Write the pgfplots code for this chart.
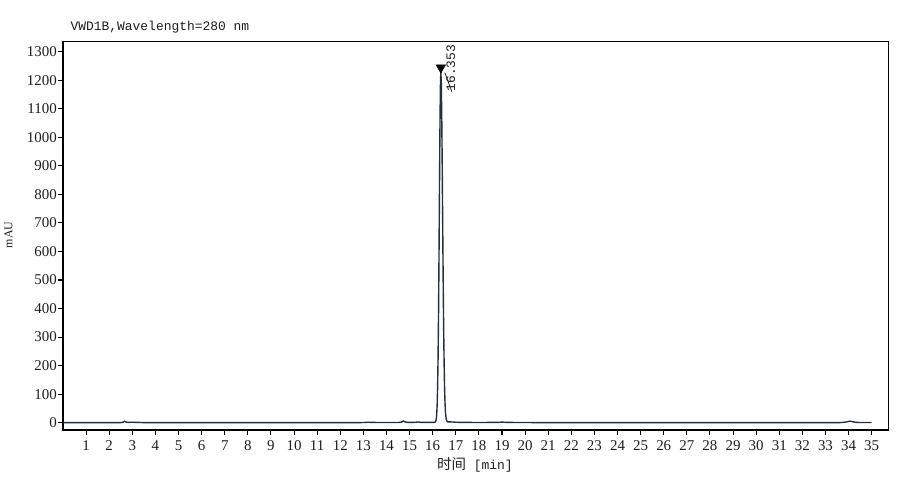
\documentclass[border=0pt]{standalone}
\usepackage{fontspec}
\setmainfont{Liberation Serif}
\newfontfamily\mono{Liberation Mono}
\newfontfamily\cjk{Noto Sans CJK SC}
\usepackage{pgfplots}
\pgfplotsset{compat=1.18}
\definecolor{trace}{RGB}{35,48,64}
\definecolor{txt}{RGB}{30,30,30}
\newcommand{\tlfont}{\fontsize{15}{16}\selectfont}
\begin{document}
\begin{tikzpicture}[x=1bp,y=1bp]
\path[use as bounding box] (0,0) rectangle (907,478);
\begin{axis}[
  at={(63bp,48bp)}, anchor=south west, scale only axis,
  width=825.3bp, height=388.3bp,
  xmin=0, xmax=35.72, ymin=-25.6, ymax=1335,
  xtick={1,...,35}, ytick={0,100,...,1300},
  tick pos=left, tick align=outside,
  major tick length=5bp,
  axis line style={line width=1.3bp, black},
  every tick/.style={black, line width=1.1bp},
  /pgf/number format/assume math mode=true,
  /pgf/number format/1000 sep={},
  xticklabel={\tlfont\pgfmathprintnumber[assume math mode=true,1000 sep={}]{\tick}},
  yticklabel={\tlfont\pgfmathprintnumber[assume math mode=true,1000 sep={}]{\tick}},
  tick label style={text=txt},
  yticklabel style={inner sep=1pt},
  xticklabel style={inner sep=1pt, yshift=-4.5bp},
]
\addplot[trace, line width=1.4bp] coordinates {
(0,0.3) (1,0.2) (2,0.2) (2.5,0.3) (2.6,1.5) (2.66,5) (2.72,2.5) (2.8,1.2)
(3.0,1.5) (3.2,1.2) (3.4,0.5) (4,0.2) (6,0.2) (8,0.2) (10,0.2) (12,0.3)
(13.0,0.5) (13.2,1.5) (13.4,1.2) (13.6,0.5) (14.5,0.5) (14.65,2) (14.73,6)
(14.8,3) (14.9,1) (15.2,1) (15.37,2.5) (15.5,1) (15.9,1)
(16.053,1.0) (16.103,1.8) (16.133,5.0) (16.153,11.8) (16.173,27.6) (16.193,60.5)
(16.213,122) (16.233,225) (16.253,378) (16.273,579) (16.293,805) (16.313,1020)
(16.333,1175) (16.353,1232) (16.373,1189) (16.393,1069) (16.413,895)
(16.433,698) (16.453,508) (16.473,344) (16.493,218) (16.513,128) (16.533,71)
(16.553,37) (16.583,13.5) (16.613,5.5) (16.653,3.0) (16.7,2.8)
(16.85,2.5) (17.0,1.5) (17.3,1) (18,0.7) (18.8,1)
(19.0,2) (19.2,1) (20,0.5) (22,0.4) (25,0.3) (28,0.3) (31,0.3) (33,0.3)
(33.7,0.5) (33.9,2.5) (34.06,5.5) (34.2,3) (34.35,1) (34.6,0.5) (35,0.5)
};
\addplot[only marks, mark=triangle*, mark size=5.5bp,
  mark options={rotate=180, fill=black, draw=black}] coordinates {(16.353,1244)};
\draw[line width=0.8bp, txt] ([xshift=4bp,yshift=-5bp]axis cs:16.353,1244) -- ++(7bp,-19bp);
\node[rotate=90, anchor=west, inner sep=0pt, text=txt,
  font=\mono\fontsize{13}{15}\selectfont]
  at ([xshift=10bp,yshift=-24bp]axis cs:16.353,1244) {16.353};
\end{axis}
\node[anchor=west, text=txt, font=\mono\fontsize{13}{15}\selectfont] at (67,451.3) {VWD1B,Wavelength=280 nm};
\node[rotate=90, text=txt, font=\fontsize{12}{13}\selectfont] at (8.5,243) {mAU};
\node[text=txt, inner sep=0pt] at (475,13) {{\cjk\fontsize{14.5}{16}\selectfont 时间}{\mono\fontsize{13}{15}\selectfont\ [min]}};
\end{tikzpicture}
\end{document}
